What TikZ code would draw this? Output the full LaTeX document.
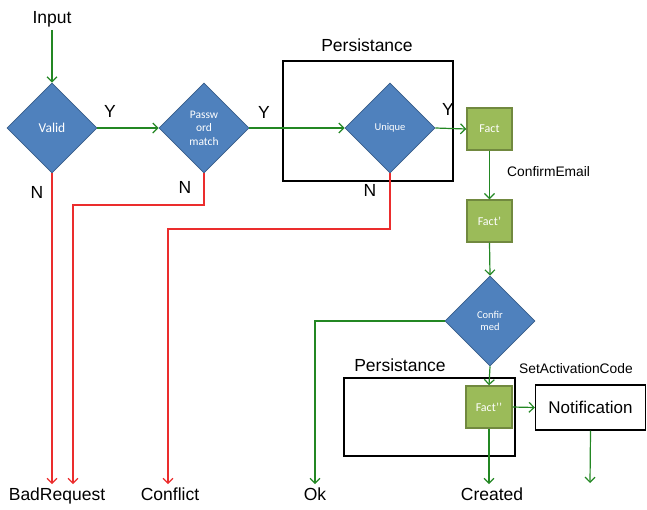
\documentclass[tikz,border=0pt]{standalone}
\usepackage{fontspec}
\setmainfont{Liberation Sans}
\newfontfamily\calibri{Carlito}
\usetikzlibrary{shapes,arrows.meta}

\definecolor{decblue}{RGB}{79,129,189}
\definecolor{decedge}{RGB}{56,93,138}
\definecolor{factgreen}{RGB}{155,187,89}
\definecolor{factedge}{RGB}{113,137,63}
\definecolor{flowgreen}{RGB}{35,135,35}
\definecolor{flowred}{RGB}{235,45,45}

\tikzset{
  decision/.style={shape=diamond,fill=decblue,draw=decedge,line width=0.8pt,minimum width=90pt,minimum height=90pt,inner sep=0pt,text=white,align=center,font=\calibri\fontsize{10.5}{12.5}\selectfont},
  fact/.style={shape=rectangle,fill=factgreen,draw=factedge,line width=1.4pt,minimum width=45pt,minimum height=42pt,text=white,font=\calibri\fontsize{12}{13}\selectfont},
  persbox/.style={shape=rectangle,draw=black,line width=1.8pt},
  lbl/.style={anchor=base,inner sep=3pt,font=\fontsize{17.5}{20}\selectfont},
  note/.style={anchor=base west,inner sep=0pt,font=\fontsize{13.8}{16}\selectfont},
  yes/.style={-{Straight Barb[length=5pt,width=10pt]},draw=flowgreen,line width=1.2pt},
  no/.style={-{Straight Barb[length=5pt,width=10pt]},draw=flowred,line width=1.2pt},
}

\begin{document}
\begin{tikzpicture}[x=1pt,y=-1pt]
\useasboundingbox (0,0) rectangle (647,509);

% persistance boxes
\node[persbox,minimum width=170pt,minimum height=120pt] (pers1) at (368,121) {};
\node[persbox,minimum width=171pt,minimum height=78pt] (pers2) at (429.5,417) {};
\node[lbl] at (367,51) {Persistance};
\node[lbl] at (400,371) {Persistance};

% decisions and facts
\node[decision,font=\calibri\fontsize{13.5}{15}\selectfont] (valid) at (52,128) {Valid};
\node[decision,font=\calibri\fontsize{11.5}{13.5}\selectfont] (pwd) at (204,128) {Passw\\ord\\match};
\node[decision,font=\calibri\fontsize{10.5}{12}\selectfont] (unique) at (390,128) {Unique};
\node[fact] (fact) at (489.5,129) {Fact};
\node[fact] (fact1) at (489.5,221) {Fact’};
\node[decision,font=\calibri\fontsize{10.5}{12.3}\selectfont] (conf) at (490,321) {Confir\\med};
\node[fact,minimum width=46pt] (fact2) at (489,407) {Fact’’};
\node[shape=rectangle,draw=black,line width=1.3pt,minimum width=110pt,minimum height=45pt,font=\fontsize{17}{20}\selectfont] (notif) at (590.5,407.5) {Notification};

% texts
\node[lbl] (input) at (52,23) {Input};
\node[lbl] (bad) at (57,500) {BadRequest};
\node[lbl] (conflict) at (170,500) {Conflict};
\node[lbl] (ok) at (315,500) {Ok};
\node[lbl] (created) at (492,500) {Created};
\node[lbl] at (110,117) {Y};
\node[lbl] at (264,118) {Y};
\node[lbl] at (448,115) {Y};
\node[lbl] at (37,198) {N};
\node[lbl] at (185,193) {N};
\node[lbl] at (370,196) {N};
\node[note] at (507,176) {ConfirmEmail};
\node[note] at (519,373) {SetActivationCode};

\coordinate (nbend1) at (73,205);
\coordinate (nbend2) at (168,229);
\coordinate (notifend) at (590,483);

% green flow
\draw [yes] (input) -- (valid.north);
\draw [yes] (valid.east) -- (pwd.west);
\draw [yes] (pwd.east) -- (unique.west);
\draw [yes] (unique.east) -- (fact.west);
\draw [yes] (fact.south) -- (fact1.north);
\draw [yes] (fact1.south) -- (conf.north);
\draw [yes] (conf.south) -- (fact2.north);
\draw [yes] (fact2.east) -- (notif.west);
\draw [yes] (fact2.south) -- (fact2.south |- created.north);
\draw [yes] (notif.south) -- (notifend);
\draw [yes] (conf.west) -| (ok.north);

% red flow
\draw [no] (valid.south) -- (valid.south |- bad.north);
\draw [no] (pwd.south) |- (nbend1) -- (nbend1 |- bad.north);
\draw [no] (unique.south) |- (nbend2) -- (nbend2 |- conflict.north);
\end{tikzpicture}
\end{document}
